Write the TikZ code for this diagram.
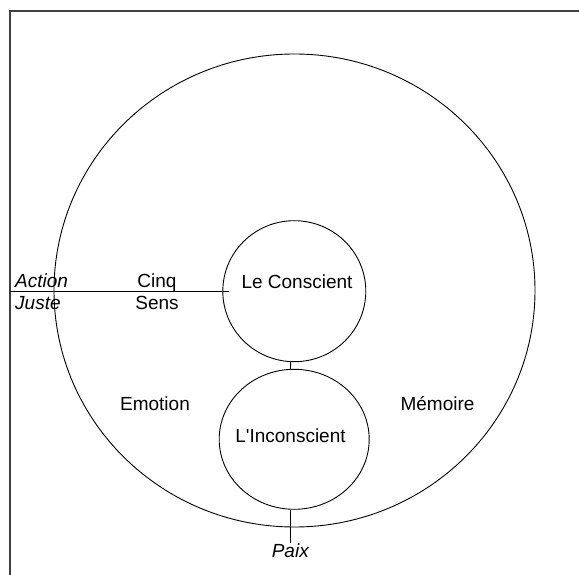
\documentclass[tikz,border=0pt]{standalone}
\usepackage{fontspec}
\setmainfont{Liberation Sans}[Ligatures=TeXOff]
\usetikzlibrary{shapes.geometric}
\begin{document}
\begin{tikzpicture}[x=1pt,y=-1pt,
  ring/.style={draw, ellipse, inner sep=0pt, line width=0.9pt},
  lbl/.style={inner sep=0pt, font=\fontsize{19}{22}\selectfont},
  ilbl/.style={lbl, font=\fontsize{19}{22}\selectfont\itshape},
  link/.style={line width=0.9pt}]
\useasboundingbox (0,0) rectangle (579,575);
% frame (only top and left edges visible)
\draw[line width=1.6pt, black!75] (579,11) -- (10,11) -- (10,575);
% circles
\node[ring, minimum width=481pt, minimum height=473pt] (outer) at (294.5,290.5) {};
\node[ring, minimum width=143pt, minimum height=141pt] (cons) at (294.3,291.2) {};
\node[ring, minimum width=150pt, minimum height=140pt] (incons) at (294.2,439.3) {};
% labels
\node[lbl] (tcons) at (297,282) {Le Conscient};
\node[lbl] (tincons) at (290.5,436) {L'Inconscient};
\node[lbl] (emo) at (155,403.5) {Emotion};
\node[lbl] (mem) at (437.5,403.5) {Mémoire};
\node[lbl, align=center] (cinq) at (157,292) {Cinq\\Sens};
\node[ilbl, align=left, anchor=west] (action) at (15,292) {Action\\Juste};
% connectors
\coordinate (fl) at (10,291.2);
\coordinate (pend) at (290.3,543);
\draw[link] (fl) -- ([xshift=6.5pt]cons.west);
\draw[link] ([xshift=-3.6pt]cons.south) -- ([xshift=-3.8pt]incons.north);
\draw[link] ([xshift=-3.9pt]incons.south) -- (pend);
\node[ilbl, anchor=north] (paix) at ([yshift=-1pt]pend) {Paix};
\end{tikzpicture}
\end{document}
